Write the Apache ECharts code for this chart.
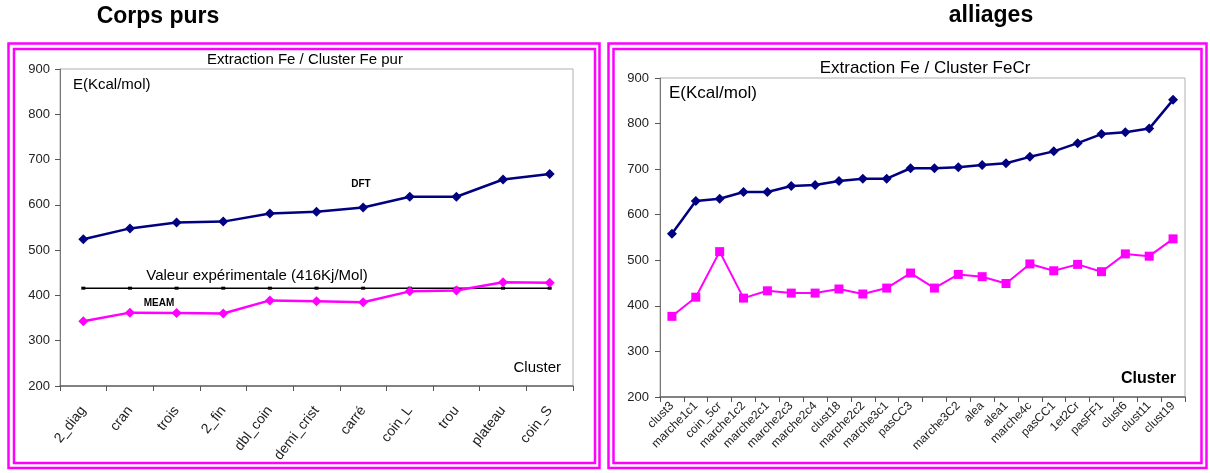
<!DOCTYPE html>
<html>
<head>
<meta charset="utf-8">
<script src="https://cdn.jsdelivr.net/npm/echarts@6/dist/echarts.min.js"></script>
<style>
html,body{margin:0;padding:0;background:#fff;}
#c{width:1210px;height:473px;}
</style>
</head>
<body>
<div id="c"></div>
<script>
// ---- data ----
const leftCategories = ["2_diag","cran","trois","2_fin","dbl_coin","demi_crist","carré","coin_L","trou","plateau","coin_S"];
const leftDFT  = [524, 548, 561, 563, 581, 585, 594, 618, 618, 656, 668];
const leftMEAM = [343, 362, 361, 360, 389, 387, 385, 409, 411, 429, 428];
const leftExp  = [416, 416, 416, 416, 416, 416, 416, 416, 416, 416, 416];

const rightCategories = ["clust3","marche1c1","coin_5cr","marche1c2","marche2c1","marche2c3","marche2c4","clust18","marche2c2","marche3c1","pasCC3","","marche3C2","alea","alea1","marche4c","pasCC1","1et2Cr","pasFF1","clust6","clust11","clust19"];
const rightDFT  = [558, 630, 635, 650, 650, 663, 665, 674, 679, 679, 702, 702, 704, 709, 713, 727, 739, 757, 777, 781, 789, 852];
const rightMEAM = [377, 419, 519, 417, 433, 428, 428, 437, 426, 439, 472, 439, 469, 464, 449, 492, 477, 491, 475, 514, 509, 547];

const yTicks = [200, 300, 400, 500, 600, 700, 800, 900];

// ---- chart ----
const FONT = "'Liberation Sans', Arial, sans-serif";
const NAVY = '#000080';
const MAG = '#ff00ff';
const chart = echarts.init(document.getElementById('c'), null, {renderer: 'canvas'});

function yAxis(gridIndex, fs, margin) {
  return {
    type: 'value', gridIndex: gridIndex,
    min: yTicks[0], max: yTicks[yTicks.length - 1], interval: yTicks[1] - yTicks[0],
    axisLine: {show: true, lineStyle: {color: '#777', width: 1}},
    axisTick: {show: true, length: 5, lineStyle: {color: '#555'}},
    splitLine: {show: false},
    axisLabel: {fontSize: fs, color: '#222', fontFamily: FONT, margin: margin}
  };
}
function xAxis(gridIndex, cats, fs, margin, rot) {
  return {
    type: 'category', gridIndex: gridIndex, data: cats, boundaryGap: true,
    axisLine: {show: true, lineStyle: {color: '#666', width: 1.5}},
    axisTick: {show: true, length: 5, interval: 0, lineStyle: {color: '#555'}},
    splitLine: {show: false},
    axisLabel: {rotate: rot, interval: 0, fontSize: fs, color: '#222', fontFamily: FONT, margin: margin}
  };
}

const option = {
  animation: false,
  backgroundColor: '#fff',
  grid: [
    {left: 60, top: 69, width: 513, height: 317, show: true, borderColor: '#b0b0b0', borderWidth: 1},
    {left: 660, top: 78, width: 525, height: 319, show: true, borderColor: '#b0b0b0', borderWidth: 1}
  ],
  xAxis: [xAxis(0, leftCategories, 14, 22, 52), xAxis(1, rightCategories, 12, 7, 45)],
  yAxis: [yAxis(0, 13, 10), yAxis(1, 13, 11)],
  series: [
    {type: 'line', xAxisIndex: 0, yAxisIndex: 0, data: leftExp, symbol: 'rect', symbolSize: [4, 3],
     lineStyle: {color: '#000', width: 1.5}, itemStyle: {color: '#000'}, z: 2},
    {type: 'line', xAxisIndex: 0, yAxisIndex: 0, data: leftDFT, symbol: 'diamond', symbolSize: 10,
     lineStyle: {color: NAVY, width: 2.5}, itemStyle: {color: NAVY}, z: 3},
    {type: 'line', xAxisIndex: 0, yAxisIndex: 0, data: leftMEAM, symbol: 'diamond', symbolSize: 10,
     lineStyle: {color: MAG, width: 2.5}, itemStyle: {color: MAG}, z: 3},
    {type: 'line', xAxisIndex: 1, yAxisIndex: 1, data: rightDFT, symbol: 'diamond', symbolSize: 10,
     lineStyle: {color: NAVY, width: 2.5}, itemStyle: {color: NAVY}, z: 3},
    {type: 'line', xAxisIndex: 1, yAxisIndex: 1, data: rightMEAM, symbol: 'rect', symbolSize: 9,
     lineStyle: {color: MAG, width: 2}, itemStyle: {color: MAG}, z: 3}
  ],
  graphic: [
    // panel borders (double magenta frames)
    {type: 'rect', shape: {x: 8.5, y: 43.5, width: 591, height: 424.5}, style: {fill: 'none', stroke: MAG, lineWidth: 2.5}, z: 10},
    {type: 'rect', shape: {x: 14, y: 49, width: 581, height: 414}, style: {fill: 'none', stroke: MAG, lineWidth: 2.5}, z: 10},
    {type: 'rect', shape: {x: 608.5, y: 43.5, width: 598, height: 424.5}, style: {fill: 'none', stroke: MAG, lineWidth: 2.5}, z: 10},
    {type: 'rect', shape: {x: 613.5, y: 49, width: 588, height: 414}, style: {fill: 'none', stroke: MAG, lineWidth: 2.5}, z: 10},
    // headings
    {type: 'text', x: 158, y: 17, style: {text: 'Corps purs', font: "bold 23px " + FONT, fill: '#000', textAlign: 'center', textVerticalAlign: 'middle'}},
    {type: 'text', x: 991, y: 16, style: {text: 'alliages', font: "bold 23px " + FONT, fill: '#000', textAlign: 'center', textVerticalAlign: 'middle'}},
    // chart titles
    {type: 'text', x: 305, y: 60, style: {text: 'Extraction Fe / Cluster Fe pur', font: "15px " + FONT, fill: '#000', textAlign: 'center', textVerticalAlign: 'middle'}},
    {type: 'text', x: 925, y: 68, style: {text: 'Extraction Fe / Cluster FeCr', font: "17px " + FONT, fill: '#000', textAlign: 'center', textVerticalAlign: 'middle'}},
    // axis captions
    {type: 'text', x: 73, y: 85, style: {text: 'E(Kcal/mol)', font: "15px " + FONT, fill: '#000', textAlign: 'left', textVerticalAlign: 'middle'}},
    {type: 'text', x: 669, y: 93, style: {text: 'E(Kcal/mol)', font: "17px " + FONT, fill: '#000', textAlign: 'left', textVerticalAlign: 'middle'}},
    {type: 'text', x: 561, y: 368, style: {text: 'Cluster', font: "15px " + FONT, fill: '#000', textAlign: 'right', textVerticalAlign: 'middle'}},
    {type: 'text', x: 1176, y: 379, style: {text: 'Cluster', font: "bold 16px " + FONT, fill: '#000', textAlign: 'right', textVerticalAlign: 'middle'}},
    // series annotations
    {type: 'text', x: 361, y: 184, style: {text: 'DFT', font: "bold 10px " + FONT, fill: '#000', textAlign: 'center', textVerticalAlign: 'middle'}},
    {type: 'text', x: 159, y: 303, style: {text: 'MEAM', font: "bold 10px " + FONT, fill: '#000', textAlign: 'center', textVerticalAlign: 'middle'}},
    {type: 'text', x: 257, y: 276, style: {text: 'Valeur expérimentale (416Kj/Mol)', font: "15px " + FONT, fill: '#000', textAlign: 'center', textVerticalAlign: 'middle'}}
  ]
};
chart.setOption(option);
</script>
</body>
</html>
